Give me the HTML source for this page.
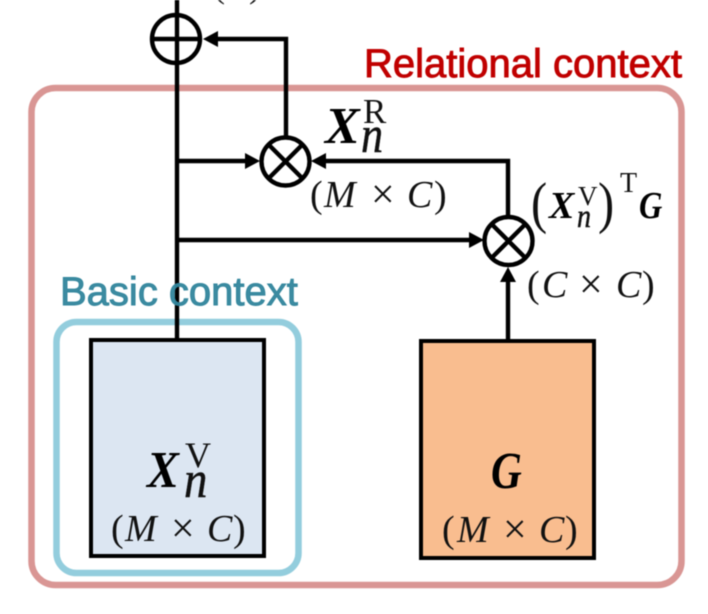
<!DOCTYPE html>
<html>
<head>
<meta charset="utf-8">
<style>
html,body{margin:0;padding:0;background:#fff;width:708px;height:614px;overflow:hidden}
svg{display:block;filter:blur(0.45px)}
.s{font-family:"Liberation Sans",sans-serif;font-weight:400;font-size:40px}
.m{font-family:"Liberation Serif",serif;fill:#111}
.d{font-size:38px}
.x{font-size:42px}
.i{font-style:italic}
.t{stroke:#111;stroke-width:0.5px}
.b{font-weight:700;font-style:italic;fill:#000}
</style>
</head>
<body>
<svg width="708" height="614" viewBox="0 0 708 614" xmlns="http://www.w3.org/2000/svg">
<!-- Group frames -->
<rect x="31.5" y="88" width="650" height="497" rx="24" fill="#fff" stroke="#d99694" stroke-width="6.5"/>

<!-- Boxes -->
<rect x="91" y="340" width="173" height="216" fill="#dce6f2" stroke="#000" stroke-width="4"/>
<rect x="421" y="341" width="173" height="217" fill="#f9bd8f" stroke="#000" stroke-width="4"/>
<rect x="56.5" y="322" width="242" height="251" rx="20" fill="none" stroke="#93cddd" stroke-width="6.5"/>

<!-- Connectors -->
<g fill="none" stroke="#000" stroke-width="4.4">
  <path d="M177 0V338"/>
  <path d="M286 136V39H216"/>
  <path d="M177 161H247"/>
  <path d="M508 216V161H325"/>
  <path d="M177 240H470"/>
  <path d="M508 339V280"/>
  <circle cx="176" cy="39" r="24"/>
  <path d="M153 39H200"/>
  <circle cx="285.500" cy="161.500" r="24"/>
  <path d="M269 145L302 178M302 145L269 178"/>
  <circle cx="508.500" cy="241" r="24"/>
  <path d="M492 224.500L525 257.500M525 224.500L492 257.500"/>
</g>

<!-- Arrowheads -->
<g fill="#000">
  <path d="M203 39L218 31V47Z"/>
  <path d="M260 161L245 153V169Z"/>
  <path d="M311 161L326 153V169Z"/>
  <path d="M484 240L469 232V248Z"/>
  <path d="M508 267L500 282H516Z"/>
</g>

<!-- Group titles -->
<text class="s" x="364" y="77" fill="#c00000" stroke="#c00000" stroke-width="0.9">Relational context</text>
<text class="s" x="60" y="305" fill="#31859c" fill-opacity="0.95" stroke="#31859c" stroke-width="0.9">Basic context</text>

<!-- Clipped top label -->
<text class="m" x="213" y="-3" font-size="36">(</text>
<text class="m" x="249" y="-3" font-size="36">)</text>

<!-- X_n^R -->
<text class="m b" x="325" y="143" font-size="52">X</text>
<text class="m" x="363" y="123" font-size="35">R</text>
<text class="m i t" transform="translate(361 152) scale(0.85 1)" font-size="52">n</text>
<!-- (M × C) -->
<text class="m d" x="310" y="207">(</text>
<text class="m d i" x="324" y="207">M</text>
<text class="m x" x="371" y="208">×</text>
<text class="m d i" x="407" y="207">C</text>
<text class="m d" x="434" y="207">)</text>

<!-- (X_n^V)^T G -->
<text class="m" transform="translate(531 222) scale(0.85 1)" font-size="57">(</text>
<text class="m b" x="549" y="218" font-size="38">X</text>
<text class="m" x="578" y="205" font-size="27">V</text>
<text class="m i t" transform="translate(577 227) scale(0.85 1)" font-size="33">n</text>
<text class="m" transform="translate(598 222) scale(0.85 1)" font-size="57">)</text>
<text class="m" x="620" y="192" font-size="28">T</text>
<text class="m b" transform="translate(639 218) scale(0.85 1)" font-size="38">G</text>

<!-- (C × C) -->
<text class="m d" x="527" y="297">(</text>
<text class="m d i" x="542" y="297">C</text>
<text class="m x" x="579" y="298">×</text>
<text class="m d i" x="616" y="297">C</text>
<text class="m d" x="642" y="297">)</text>

<!-- X_n^V box -->
<text class="m b" transform="translate(147 487) scale(0.92 1)" font-size="52">X</text>
<text class="m" x="185" y="467" font-size="36">V</text>
<text class="m i t" transform="translate(184 497) scale(0.9 1)" font-size="52">n</text>
<text class="m d" x="111" y="541">(</text>
<text class="m d i" x="125" y="541">M</text>
<text class="m x" x="171" y="542">×</text>
<text class="m d i" x="207" y="541">C</text>
<text class="m d" x="233" y="541">)</text>

<!-- G box -->
<text class="m b" transform="translate(491 488) scale(0.82 1)" font-size="52">G</text>
<text class="m d" x="442" y="542">(</text>
<text class="m d i" x="457" y="542">M</text>
<text class="m x" x="503" y="543">×</text>
<text class="m d i" x="539" y="542">C</text>
<text class="m d" x="565" y="542">)</text>
</svg>
</body>
</html>
